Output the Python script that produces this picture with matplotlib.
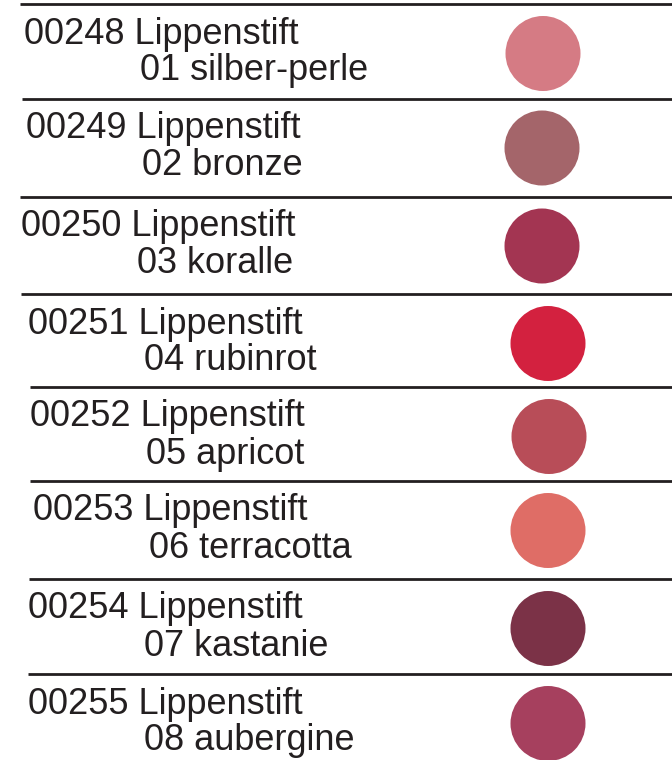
# import lib
import matplotlib.pyplot as plt
from matplotlib.patches import Circle

# data of the swatch table
codes = ['00248', '00249', '00250', '00251', '00252', '00253', '00254', '00255']
shades = ['01 silber-perle', '02 bronze', '03 koralle', '04 rubinrot',
          '05 apricot', '06 terracotta', '07 kastanie', '08 aubergine']
colors = ['#d57b84', '#a4656a', '#a33552', '#d3213f',
          '#b84d58', '#df6d66', '#7b3247', '#a6405e']
product = 'Lippenstift'

# layout in pixels (the rows are not quite even in the original)
row_top = [4, 98.5, 196.5, 294, 387, 481, 579, 674]      # y of separator line
line_x0 = [20, 22, 20, 21, 30, 30, 29, 28]               # start of separator line
text_x = [24.5, 25.5, 21, 28.5, 30.5, 33, 27.5, 28.5]    # start of first text line
circle_x = [543, 542, 542, 548, 549, 548, 548, 548]
circle_dy = 49.5                                         # circle center below line
r = 37.5
base1 = 39.5                                             # baseline of first line
base2 = 76.5                                             # baseline of second line
indent = 116

fig = plt.figure(figsize=(6.72, 7.6), dpi=100)
ax = fig.add_axes([0, 0, 1, 1])
ax.set_xlim(0, 672)
ax.set_ylim(760, 0)
ax.axis('off')

for i in range(len(codes)):
    y0 = row_top[i]
    ax.plot([line_x0[i], 672], [y0, y0], color='#231f20', lw=2.0,
            solid_capstyle='butt')
    ax.text(text_x[i], y0 + base1, codes[i] + ' ' + product,
            fontsize=26, family='Liberation Sans', color='#231f20',
            va='baseline', ha='left')
    ax.text(text_x[i] + indent, y0 + base2, shades[i],
            fontsize=26, family='Liberation Sans', color='#231f20',
            va='baseline', ha='left')
    ax.add_patch(Circle((circle_x[i], y0 + circle_dy), r, color=colors[i], lw=0))

plt.savefig('out.png', dpi=100)
